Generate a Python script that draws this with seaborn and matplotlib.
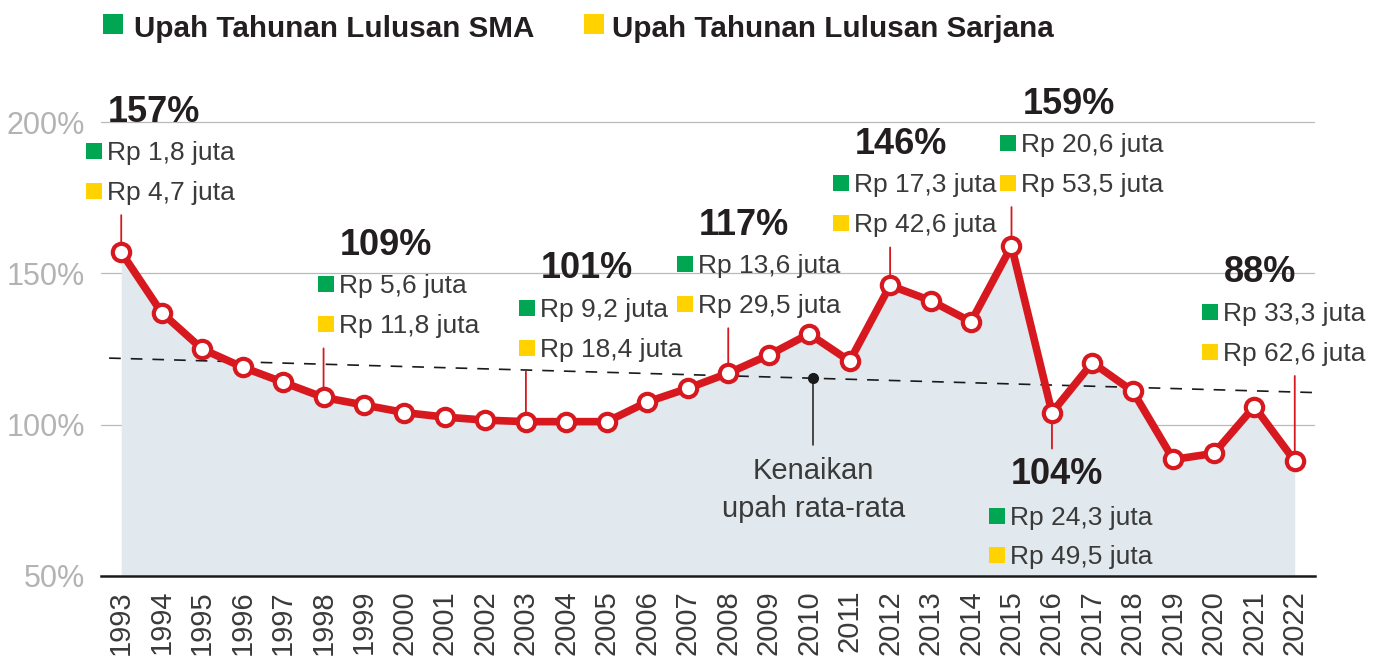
import matplotlib
matplotlib.use("Agg")
import numpy as np
import pandas as pd
import seaborn as sns
from matplotlib import pyplot as plt
from matplotlib.patches import Rectangle
from matplotlib.transforms import offset_copy

# --- data -------------------------------------------------------------------
years = list(range(1993, 2023))
ratio = [157, 137, 125, 119, 114, 109, 106.5, 104, 102.5, 101.5,
         101, 101, 101, 107.5, 112, 117, 123, 130, 121, 146,
         141, 134, 159, 104, 120.5, 111, 88.5, 90.5, 106, 88]

trend_years = [1992.7, 2022.5]
trend_values = [122.0, 110.6]
trend_mark_year = 2010.1

ann_years = [1993, 1998, 2003, 2008, 2012, 2015, 2016, 2022]
ann_pct = ["157%", "109%", "101%", "117%", "146%", "159%", "104%", "88%"]
wage_sma = ["Rp 1,8 juta", "Rp 5,6 juta", "Rp 9,2 juta", "Rp 13,6 juta",
            "Rp 17,3 juta", "Rp 20,6 juta", "Rp 24,3 juta", "Rp 33,3 juta"]
wage_sarjana = ["Rp 4,7 juta", "Rp 11,8 juta", "Rp 18,4 juta", "Rp 29,5 juta",
                "Rp 42,6 juta", "Rp 53,5 juta", "Rp 49,5 juta", "Rp 62,6 juta"]

legend_labels = ["Upah Tahunan Lulusan SMA", "Upah Tahunan Lulusan Sarjana"]

# --- layout (pixel offsets of each callout from its point) -------------------
ann_dx = [-14, 15, 14, -30, -36, 10, -42, -72]
ann_stem = [37, 49, 50, 45, 38, 39, -36, 85]

RED = "#d7191f"
GREEN = "#00a651"
YELLOW = "#ffd200"
FILL = "#e1e9ee"
DARK = "#231f20"
TEXT = "#3a3a3a"

sns.set_style("white")
plt.rcParams["font.family"] = ["Liberation Sans", "DejaVu Sans"]

fig = plt.figure(figsize=(13.82, 6.62), dpi=100)
ax = fig.add_axes([0.07308, 0.12991, 0.87844, 0.7772])

df = pd.DataFrame({"year": years, "ratio": ratio})

ax.fill_between(df["year"], df["ratio"], 50, color=FILL, lw=0, zorder=1)
ax.plot(trend_years, trend_values, color="#1a1a1a", lw=1.2, dashes=(7, 6), zorder=2)

sns.lineplot(data=df, x="year", y="ratio", color=RED, lw=5.5, marker="o",
             ms=12.5, mfc="white", mec=RED, mew=3, errorbar=None, zorder=4, ax=ax)

# average-growth marker
mark_val = np.interp(trend_mark_year, trend_years, trend_values)
ax.plot([trend_mark_year, trend_mark_year], [mark_val, 93.3], color="#1a1a1a", lw=1.1, zorder=2)
ax.plot([trend_mark_year], [mark_val], "o", color="#1a1a1a", ms=7, zorder=3)
ax.text(trend_mark_year, 82.1, "Kenaikan", ha="center", va="baseline", fontsize=21, color=TEXT)
ax.text(trend_mark_year, 69.5, "upah rata-rata", ha="center", va="baseline", fontsize=21, color=TEXT)

# callouts
for yr, pct, sma, sar, dx, stem in zip(ann_years, ann_pct, wage_sma, wage_sarjana, ann_dx, ann_stem):
    val = ratio[years.index(yr)]
    if stem > 0:
        d_pct, d_sma, d_sar = stem + 107, stem + 64, stem + 24
    else:
        d_pct, d_sma, d_sar = stem - 22, stem - 67, stem - 106
    ax.annotate("", xy=(yr, val), xytext=(0, stem), textcoords="offset pixels",
                arrowprops=dict(arrowstyle="-", color=RED, lw=1.3, shrinkA=0, shrinkB=0),
                zorder=3)
    ax.annotate(pct, xy=(yr, val), xytext=(dx + 1, d_pct - 13.5), textcoords="offset pixels",
                ha="left", va="baseline", fontsize=26, fontweight="bold", color=DARK)
    for label, dy, col in [(sma, d_sma, GREEN), (sar, d_sar, YELLOW)]:
        ax.annotate(label, xy=(yr, val), xytext=(dx, dy - 9), textcoords="offset pixels",
                    ha="left", va="baseline", fontsize=19, color=TEXT)
        tr = offset_copy(ax.transData, fig=fig, x=dx - 13, y=dy, units="dots")
        ax.plot([yr], [val], marker="s", ms=12, mew=0, color=col, transform=tr,
                clip_on=False, zorder=5)

# axes styling
ax.set_xlim(1992.5, 2022.5)
ax.set_ylim(50, 220)
ax.set_xlabel("")
ax.set_ylabel("")
for side in ["left", "top", "right"]:
    ax.spines[side].set_visible(False)
ax.spines["bottom"].set_linewidth(1.8)
ax.spines["bottom"].set_color("#1a1a1a")
ax.spines["bottom"].set_zorder(6)

ax.set_yticks([50, 100, 150, 200])
ax.set_yticklabels([f"{v}%" for v in [50, 100, 150, 200]])
ax.yaxis.grid(True, color="#b9b9b9", lw=0.9)
ax.xaxis.grid(False)
ax.tick_params(axis="y", length=0, pad=11.5, labelsize=22, labelcolor="#b3b3b3")

ax.set_xticks(years)
ax.set_xticklabels([str(y) for y in years], rotation=90)
ax.set_xticks(np.arange(years[0] - 0.5, years[-1] + 1), minor=True)
ax.tick_params(axis="x", which="major", length=0, pad=10, labelsize=21, labelcolor=TEXT)
ax.tick_params(axis="x", which="minor", length=8, width=1.5, color="#1a1a1a", direction="out")

# top legend
for (sq_x, txt_x), label, col in zip([(103, 134), (584, 612)], legend_labels, [GREEN, YELLOW]):
    fig.add_artist(Rectangle((sq_x / 1382, 1 - 34 / 662), 20 / 1382, 20 / 662,
                             transform=fig.transFigure, color=col, lw=0))
    fig.text(txt_x / 1382, 1 - 37 / 662, label, fontsize=21.3, fontweight="bold",
             color=DARK, va="baseline", ha="left")

fig.savefig("out.png", dpi=100)
